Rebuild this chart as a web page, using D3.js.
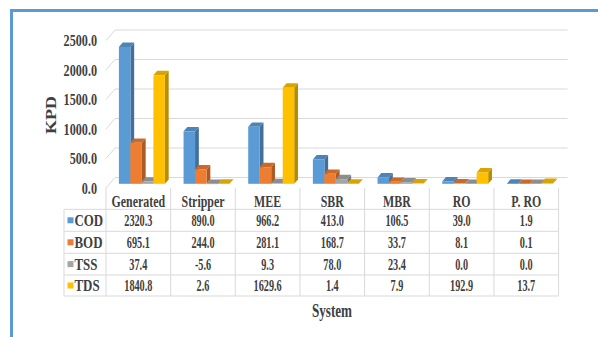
<!DOCTYPE html>
<html>
<head>
<meta charset="utf-8">
<script src="https://cdnjs.cloudflare.com/ajax/libs/d3/7.8.5/d3.min.js"></script>
<style>
  html, body { margin: 0; padding: 0; background: #fff; }
  svg { display: block; }
  text { font-family: "Liberation Serif", "Times New Roman", serif; font-weight: bold; fill: #404040; }
</style>
</head>
<body>
<svg id="chart" width="598" height="337"></svg>
<script>
// Load per system (KPD) for each pollutant parameter
const systems = ["Generated", "Stripper", "MEE", "SBR", "MBR", "RO", "P. RO"];
const seriesNames = ["COD", "BOD", "TSS", "TDS"];
const COD = [2320.3, 890.0, 966.2, 413.0, 106.5, 39.0, 1.9];
const BOD = [695.1, 244.0, 281.1, 168.7, 33.7, 8.1, 0.1];
const TSS = [37.4, -5.6, 9.3, 78.0, 23.4, 0.0, 0.0];
const TDS = [1840.8, 2.6, 1629.6, 1.4, 7.9, 192.9, 13.7];
const yTicks = [0, 500, 1000, 1500, 2000, 2500];
const seriesColors = ["#5b9bd5", "#ed7d31", "#a5a5a5", "#ffc000"];

const seriesValues = { COD, BOD, TSS, TDS };
const fmt = v => v.toFixed(1);

const svg = d3.select("#chart");

// outer frame (left and top edges)
svg.append("path")
  .attr("d", "M11.5,337 V10.5 H598")
  .attr("fill", "none")
  .attr("stroke", "#5b9bd5")
  .attr("stroke-width", 3);

// 3D geometry: front plane of the floor, and the depth vector to the back wall
const plotLeft = 106, plotRight = 558.6;
const depthX = 9, depthY = -10.5;

const x = d3.scaleBand().domain(systems).range([plotLeft, plotRight]).paddingInner(0).paddingOuter(0);
const xs = d3.scaleBand().domain(seriesNames).range([9.3, 9.3 + 46]).padding(0);
const y = d3.scaleLinear().domain([0, 2500]).range([188, 40.5]);

// back wall gridlines with the slanted side-wall part
const grid = svg.append("g").attr("stroke", "#d9d9d9").attr("stroke-width", 1).attr("fill", "none");
yTicks.forEach(v => {
  const yf = y(v), yb = y(v) + depthY;
  grid.append("path")
    .attr("d", `M${plotLeft},${yf} L${plotLeft + depthX},${yb} H${plotRight + depthX}`);
});

// value axis labels
const yAxis = svg.append("g")
  .attr("transform", "translate(97,0)")
  .call(d3.axisLeft(y).tickValues(yTicks).tickSize(0).tickPadding(0).tickFormat(fmt));
yAxis.select(".domain").remove();
yAxis.selectAll("text")
  .attr("transform", "scale(0.76,1)")
  .style("font-family", "'Liberation Serif', serif")
  .style("font-weight", "bold")
  .style("font-size", "16px")
  .attr("fill", "#404040");

// 3D bars: front face, right side and top
const barFront = 0.4, barDepth = 0.42;
const bx = depthX * barFront, by = depthY * barFront;
const ddx = depthX * barDepth, ddy = depthY * barDepth;

const bars = svg.append("g");
systems.forEach((sys, i) => {
  seriesNames.forEach((s, j) => {
    const v = seriesValues[s][i];
    const c = d3.color(seriesColors[j]);
    const x0 = x(sys) + xs(s) + bx;
    const x1 = x0 + xs.bandwidth();
    const yTop = Math.min(y(v), y(0)) + by;
    const yBot = Math.max(y(v), y(0)) + by;
    const g = bars.append("g");
    // right side
    g.append("path")
      .attr("d", `M${x1},${yTop} L${x1 + ddx},${yTop + ddy} L${x1 + ddx},${yBot + ddy} L${x1},${yBot} Z`)
      .attr("fill", c.darker(0.9));
    // top
    g.append("path")
      .attr("d", `M${x0},${yTop} L${x0 + ddx},${yTop + ddy} L${x1 + ddx},${yTop + ddy} L${x1},${yTop} Z`)
      .attr("fill", c.darker(0.45));
    // front
    g.append("rect")
      .attr("x", x0).attr("y", yTop)
      .attr("width", x1 - x0).attr("height", Math.max(yBot - yTop, 0))
      .attr("fill", c);
  });
});

// data table below the plot
const tableLeft = 64;
const rowTops = [188, 209.3, 231.3, 253.3, 275, 296];
const table = svg.append("g").attr("stroke", "#d9d9d9").attr("stroke-width", 1).attr("fill", "none");
rowTops.slice(1).forEach(ry => {
  table.append("line").attr("x1", tableLeft).attr("x2", plotRight).attr("y1", ry).attr("y2", ry);
});
table.append("line").attr("x1", tableLeft).attr("x2", tableLeft).attr("y1", rowTops[1]).attr("y2", rowTops[5]);
systems.forEach(sys => {
  table.append("line").attr("x1", x(sys)).attr("x2", x(sys)).attr("y1", rowTops[0]).attr("y2", rowTops[5]);
});
table.append("line").attr("x1", plotRight).attr("x2", plotRight).attr("y1", rowTops[0]).attr("y2", rowTops[5]);

function label(str, px, py, size, sx, anchor) {
  return svg.append("text")
    .attr("transform", `translate(${px},${py}) scale(${sx},1)`)
    .attr("text-anchor", anchor || "middle")
    .attr("dy", "0.35em")
    .style("font-size", size + "px")
    .text(str);
}

// category header row
systems.forEach(sys => {
  label(sys, x(sys) + x.bandwidth() / 2, 201.5, 17, 0.7);
});

// series rows with legend keys
seriesNames.forEach((s, j) => {
  const cy = (rowTops[j + 1] + rowTops[j + 2]) / 2;
  svg.append("rect")
    .attr("x", 67.5).attr("y", cy - 3)
    .attr("width", 6).attr("height", 6)
    .attr("fill", seriesColors[j]);
  label(s, 74.5, cy, 17, 0.76, "start");
  systems.forEach((sys, i) => {
    label(fmt(seriesValues[s][i]), x(sys) + x.bandwidth() / 2, cy, 16, 0.64);
  });
});

// axis titles
svg.append("text")
  .attr("transform", "translate(51,115) scale(0.85,1) rotate(-90)")
  .attr("text-anchor", "middle")
  .attr("dy", "0.35em")
  .style("font-size", "18px")
  .text("KPD");
label("System", 332, 311, 18, 0.73);
</script>
</body>
</html>
